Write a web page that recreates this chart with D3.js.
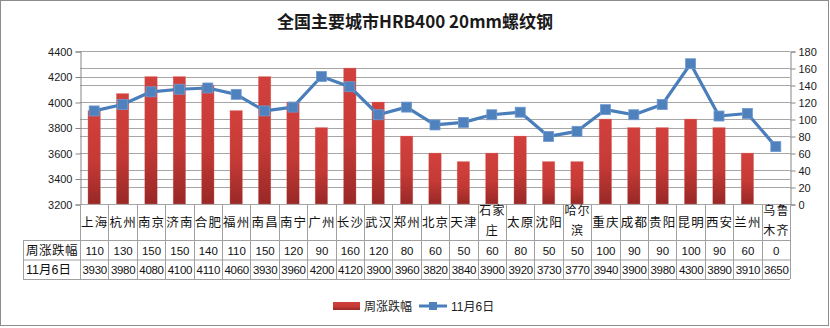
<!DOCTYPE html>
<html><head><meta charset="utf-8">
<script src="https://cdn.jsdelivr.net/npm/d3@7"></script>
<style>
html,body{margin:0;padding:0;background:#fff;}
svg{display:block;font-family:"Liberation Sans","Noto Sans CJK SC",sans-serif;}
</style></head>
<body>
<svg id="chart" width="830" height="328"></svg>
<script>
const categories = ["上海","杭州","南京","济南","合肥","福州","南昌","南宁","广州","长沙","武汉","郑州","北京","天津","石家庄","太原","沈阳","哈尔滨","重庆","成都","贵阳","昆明","西安","兰州","乌鲁木齐"];
const weeklyChange = [110,130,150,150,140,110,150,120,90,160,120,80,60,50,60,80,50,50,100,90,90,100,90,60,0];
const priceNov6 = [3930,3980,4080,4100,4110,4060,3930,3960,4200,4120,3900,3960,3820,3840,3900,3920,3730,3770,3940,3900,3980,4300,3890,3910,3650];
const leftTicks = [3200,3400,3600,3800,4000,4200,4400];
const rightTicks = [0,20,40,60,80,100,120,140,160,180];
const seriesNames = ["周涨跌幅","11月6日"];
const titleText = "全国主要城市HRB400 20mm螺纹钢";

const svg = d3.select("#chart");
const L = 80, R = 790, T = 51, B = 204;
const row1B = 240, row2B = 259.5, row3B = 279, tableLeft = 23;

const x = d3.scaleBand().domain(categories).range([L, R]).paddingInner(0).paddingOuter(0);
const yL = d3.scaleLinear().domain([3200, 4400]).range([B, T]);
const yR = d3.scaleLinear().domain([0, 180]).range([B, T]);

// defs gradient
const defs = svg.append("defs");
const g1 = defs.append("linearGradient").attr("id","barGrad").attr("x1",0).attr("y1",0).attr("x2",0).attr("y2",1);
g1.append("stop").attr("offset","0%").attr("stop-color","#d2403c");
g1.append("stop").attr("offset","55%").attr("stop-color","#c53a36");
g1.append("stop").attr("offset","100%").attr("stop-color","#982826");

// outer frame
svg.append("rect").attr("x",0.5).attr("y",0.5).attr("width",828).attr("height",325)
  .attr("fill","#fff").attr("stroke","#8c8c8c").attr("stroke-width",1);

// title
svg.append("text").attr("x",415).attr("y",28).attr("text-anchor","middle")
  .attr("font-size",17).attr("font-weight","bold").attr("fill","#1a1a1a")
  .attr("font-family","'Noto Sans CJK SC',sans-serif").text(titleText);

// gridlines (both axes)
const grid = svg.append("g");
leftTicks.forEach(v => grid.append("line").attr("x1",L).attr("x2",R)
  .attr("y1",Math.round(yL(v))+0.5).attr("y2",Math.round(yL(v))+0.5).attr("stroke","#a6a6a6"));
rightTicks.forEach(v => grid.append("line").attr("x1",L).attr("x2",R)
  .attr("y1",Math.round(yR(v))+0.5).attr("y2",Math.round(yR(v))+0.5).attr("stroke","#a6a6a6"));

// axes
const axL = d3.axisLeft(yL).tickValues(leftTicks).tickSize(5).tickPadding(3).tickFormat(d3.format("d"));
const axR = d3.axisRight(yR).tickValues(rightTicks).tickSize(5).tickPadding(3).tickFormat(d3.format("d"));
const gL = svg.append("g").attr("transform",`translate(${L+0.5},0.5)`).call(axL);
const gR = svg.append("g").attr("transform",`translate(${R+0.5},0.5)`).call(axR);
[gL,gR].forEach(g=>{
  g.selectAll("path,line").attr("stroke","#868686");
  g.selectAll("text").attr("font-size",11).attr("fill","#1a1a1a").attr("font-family","'Liberation Sans',sans-serif");
});

// bars
const bw = x.bandwidth()*0.44;
svg.append("g").selectAll("rect").data(categories).join("rect")
  .attr("x", (d,i)=> x(d)+x.bandwidth()/2-bw/2)
  .attr("width", bw)
  .attr("y", (d,i)=> yR(weeklyChange[i]))
  .attr("height", (d,i)=> yR(0)-yR(weeklyChange[i]))
  .attr("fill","url(#barGrad)")
  .attr("stroke","#e08a86").attr("stroke-width",0.5).attr("stroke-opacity",0.6);

// line
const line = d3.line().x((d,i)=>x(categories[i])+x.bandwidth()/2).y(d=>yL(d));
svg.append("path").datum(priceNov6).attr("d",line).attr("fill","none")
  .attr("stroke","#4a7ebb").attr("stroke-width",3.2).attr("stroke-linejoin","round");
const ms = 10;
svg.append("g").selectAll("rect").data(priceNov6).join("rect")
  .attr("x",(d,i)=>x(categories[i])+x.bandwidth()/2-ms/2)
  .attr("y",d=>yL(d)-ms/2).attr("width",ms).attr("height",ms)
  .attr("fill","#4f81bd").attr("stroke","#6f9ad0").attr("stroke-width",0.8);

// table
const tbl = svg.append("g");
const tc = "#a0a0a0";
tbl.append("line").attr("x1",tableLeft).attr("x2",R).attr("y1",row1B+0.5).attr("y2",row1B+0.5).attr("stroke",tc);
tbl.append("line").attr("x1",tableLeft).attr("x2",R).attr("y1",row2B+0.5).attr("y2",row2B+0.5).attr("stroke",tc);
tbl.append("line").attr("x1",tableLeft).attr("x2",R).attr("y1",row3B+0.5).attr("y2",row3B+0.5).attr("stroke",tc);
tbl.append("line").attr("x1",tableLeft+0.5).attr("x2",tableLeft+0.5).attr("y1",row1B).attr("y2",row3B).attr("stroke",tc);
const bounds = categories.map(c=>x(c)).concat([R]);
bounds.forEach(bx => tbl.append("line").attr("x1",Math.round(bx)+0.5).attr("x2",Math.round(bx)+0.5)
  .attr("y1",B).attr("y2",row3B).attr("stroke",tc));

// category labels
categories.forEach((c,i)=>{
  const cx = x(c)+x.bandwidth()/2;
  const lines = c.length>2 ? [c.slice(0,2), c.slice(2)] : [c];
  if(lines.length===1){
    tbl.append("text").attr("text-anchor","middle").attr("font-size",12.5)
      .attr("fill","#111").attr("font-family","'Noto Sans CJK SC',sans-serif").attr("letter-spacing",1.2)
      .attr("x",cx+0.6).attr("y",226.5).text(lines[0]);
  } else {
    lines.forEach((ln,k)=>{
      tbl.append("text").attr("text-anchor","middle").attr("font-size",12)
        .attr("fill","#111").attr("font-family","'Noto Sans CJK SC',sans-serif").attr("letter-spacing",1.2)
        .attr("x",cx+0.6).attr("y",k===0?215:235).text(ln);
    });
  }
});

// row headers
tbl.append("text").attr("x",26).attr("y",row2B-5).attr("font-size",12.5).attr("letter-spacing",0.5)
  .attr("font-family","'Noto Sans CJK SC',sans-serif").attr("fill","#111").text(seriesNames[0]);
tbl.append("text").attr("x",26).attr("y",row3B-5).attr("font-size",12.5)
  .attr("font-family","'Liberation Sans','Noto Sans CJK SC',sans-serif").attr("fill","#111").text(seriesNames[1]);

// values
categories.forEach((c,i)=>{
  const cx = x(c)+x.bandwidth()/2+0.5;
  tbl.append("text").attr("x",cx).attr("y",row2B-5).attr("text-anchor","middle").attr("font-size",11.5)
    .attr("fill","#111").text(weeklyChange[i]);
  tbl.append("text").attr("x",cx).attr("y",row3B-5).attr("text-anchor","middle").attr("font-size",11.5)
    .attr("letter-spacing",-0.3).attr("fill","#111").text(priceNov6[i]);
});

// legend
const lg = svg.append("g");
lg.append("rect").attr("x",333).attr("y",302).attr("width",27).attr("height",8).attr("fill","url(#barGrad)");
lg.append("text").attr("x",364).attr("y",310.5).attr("font-size",12).attr("fill","#222")
  .attr("font-family","'Noto Sans CJK SC',sans-serif").text(seriesNames[0]);
lg.append("line").attr("x1",419).attr("x2",447).attr("y1",306).attr("y2",306).attr("stroke","#4a7ebb").attr("stroke-width",3);
lg.append("rect").attr("x",429).attr("y",302).attr("width",8).attr("height",8).attr("fill","#4f81bd");
lg.append("text").attr("x",451).attr("y",310.5).attr("font-size",12).attr("fill","#222")
  .attr("font-family","'Liberation Sans','Noto Sans CJK SC',sans-serif").text(seriesNames[1]);
</script>
</body></html>
